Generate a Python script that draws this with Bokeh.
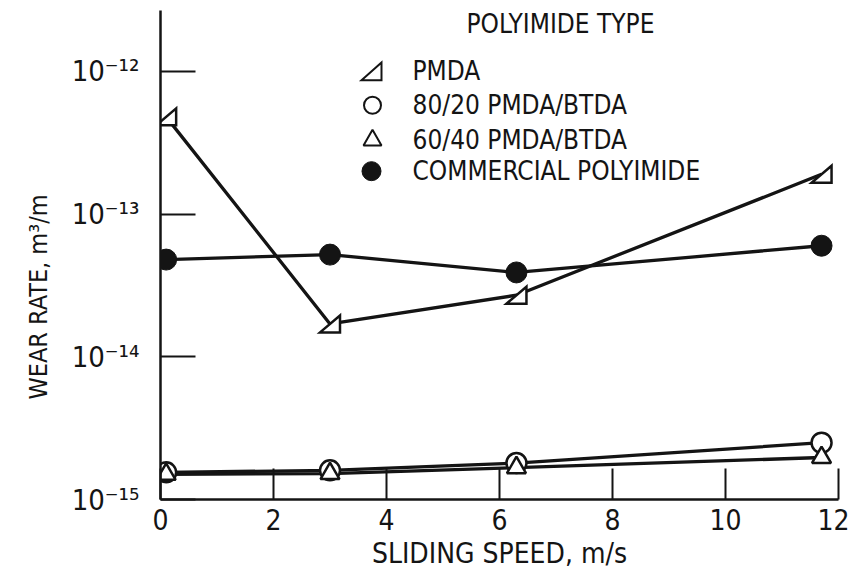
import math
from bokeh.plotting import figure
from bokeh.models import Range1d, LinearScale, FixedTicker, Label, Title
from bokeh.embed import file_html
from bokeh.resources import INLINE

# ---- data ----
speed = [0.1, 3.0, 6.3, 11.7]
pmda = [4.8e-13, 1.7e-14, 2.7e-14, 1.9e-13]
pmda_btda_80_20 = [1.55e-15, 1.6e-15, 1.8e-15, 2.5e-15]
pmda_btda_60_40 = [1.5e-15, 1.52e-15, 1.67e-15, 1.97e-15]
commercial = [4.8e-14, 5.2e-14, 3.9e-14, 6.0e-14]
series_names = ["PMDA", "80/20 PMDA/BTDA", "60/40 PMDA/BTDA", "COMMERCIAL POLYIMIDE"]
legend_title = "POLYIMIDE TYPE"
x_ticks = [0, 2, 4, 6, 8, 10, 12]
y_ticks = [1e-15, 1e-14, 1e-13, 1e-12]
y_tick_labels = ["10\u207b\u00b9\u2075", "10\u207b\u00b9\u2074", "10\u207b\u00b9\u00b3", "10\u207b\u00b9\u00b2"]
x_title = "SLIDING SPEED, m/s"
y_title = "WEAR RATE, m\u00b3/m"

# ---- layout / style ----
FONT = "'Liberation Sans Narrow', 'DejaVu Sans Condensed', 'Arial Narrow', sans-serif"
INK = "#141414"
W, H = 849, 572
FL, FT, FW, FH = 160, 10, 678, 490
PX_PER_DEC = 143.0
Y0 = 1e-15
Y1 = 10 ** (math.log10(Y0) + FH / PX_PER_DEC)
X0, X1 = 0, 12

p = figure(width=W, height=H, output_backend="svg", toolbar_location=None,
           x_range=Range1d(X0, X1), y_range=Range1d(Y0, Y1), y_axis_type="log",
           min_border_left=FL, min_border_top=FT,
           min_border_right=W - FL - FW, min_border_bottom=H - FT - FH,
           outline_line_color=None, background_fill_color="white",
           border_fill_color="white")
p.xgrid.visible = False
p.ygrid.visible = False

# pixel-space helper ranges (for the legend placement inside the frame)
p.extra_x_ranges = {"px": Range1d(0, FW)}
p.extra_y_ranges = {"px": Range1d(FH, 0)}
p.extra_x_scales = {"px": LinearScale()}
p.extra_y_scales = {"px": LinearScale()}

for ax in (p.xaxis[0], p.yaxis[0]):
    ax.axis_line_width = 2.5
    ax.axis_line_color = INK
    ax.major_tick_line_width = 2
    ax.major_tick_line_color = INK
    ax.major_tick_out = 0
    ax.minor_tick_in = 0
    ax.minor_tick_out = 0
    ax.minor_tick_line_color = None
    ax.major_label_text_font = FONT
    ax.major_label_text_color = INK

p.xaxis.ticker = FixedTicker(ticks=x_ticks)
p.xaxis.major_tick_in = 31
p.xaxis.major_label_text_font_size = "28px"
p.xaxis.major_label_standoff = 9
p.xaxis.axis_label = x_title
p.xaxis.axis_label_text_font = FONT
p.xaxis.axis_label_text_font_size = "28px"
p.xaxis.axis_label_text_font_style = "normal"
p.xaxis.axis_label_text_color = INK
p.xaxis.axis_label_standoff = 4

p.yaxis.ticker = FixedTicker(ticks=y_ticks)
p.yaxis.major_tick_in = 35
p.yaxis.major_label_overrides = dict(zip(y_ticks, y_tick_labels))
p.yaxis.major_label_text_font_size = "29px"
p.yaxis.major_label_standoff = 21

ytitle = Title(text=y_title, align="left", offset=100, standoff=31,
               text_font=FONT, text_font_size="25px", text_font_style="normal",
               text_color=INK)
p.add_layout(ytitle, "left")

# ---- data lines ----
LW = 3.3
p.line(speed, pmda, line_width=LW, line_color=INK)
p.line(speed, commercial, line_width=LW, line_color=INK)
p.line(speed, pmda_btda_80_20, line_width=LW, line_color=INK)
p.line(speed, pmda_btda_60_40, line_width=LW, line_color=INK)

# ---- markers ----
p.scatter(speed, pmda_btda_80_20, marker="circle", size=20, fill_color="white",
          line_color=INK, line_width=2.5)
p.scatter(speed, pmda_btda_60_40, marker="triangle", size=19, fill_color="white",
          line_color=INK, line_width=2.5)
p.scatter(speed, commercial, marker="circle", size=21, fill_color=INK,
          line_color=INK, line_width=1)

# PMDA right-triangle markers built around each data point
px_per_x = FW / (X1 - X0)
hw = 10.0 / px_per_x
hh = 10 ** (8.5 / PX_PER_DEC)
tri_x = [[x - hw, x + hw, x + hw] for x in speed]
tri_y = [[y / hh, y / hh, y * hh] for y in pmda]
p.patches(tri_x, tri_y, fill_color="white", line_color=INK, line_width=2.5,
          line_join="miter")

# ---- legend ----
LEG_FS = "26px"
p.add_layout(Label(x=400, y=14, x_range_name="px", y_range_name="px",
                   text=legend_title, text_align="center", text_baseline="middle",
                   text_font=FONT, text_font_size=LEG_FS, text_color=INK))
leg_rows = [61, 95, 130, 161]
for name, ry in zip(series_names, leg_rows):
    p.add_layout(Label(x=252, y=ry, x_range_name="px", y_range_name="px",
                       text=name, text_align="left", text_baseline="middle",
                       text_font=FONT, text_font_size=LEG_FS, text_color=INK))

lx = 211
p.patches([[lx - 10, lx + 10, lx + 10]], [[leg_rows[0] + 9, leg_rows[0] + 9, leg_rows[0] - 9]],
          x_range_name="px", y_range_name="px", fill_color="white",
          line_color=INK, line_width=2, line_join="miter")
p.scatter([lx + 1], [leg_rows[1]], x_range_name="px", y_range_name="px",
          marker="circle", size=17, fill_color="white", line_color=INK, line_width=2)
p.scatter([lx + 1], [leg_rows[2]], x_range_name="px", y_range_name="px",
          marker="triangle", size=18, fill_color="white", line_color=INK, line_width=2)
p.scatter([lx], [leg_rows[3]], x_range_name="px", y_range_name="px",
          marker="circle", size=19, fill_color=INK, line_color=INK, line_width=1)

open("out.html", "w").write(file_html(p, INLINE))
